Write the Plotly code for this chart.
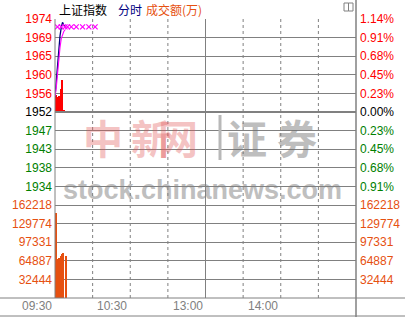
import plotly.graph_objects as go

# ---------------- data ----------------
minutes = [0, 1, 2, 3, 4, 5, 6, 7, 8]
price = [1955.4, 1959.5, 1964.0, 1967.5, 1970.0, 1972.0, 1973.2, 1972.5, 1972.2]
avg_price = [1955.5, 1957.5, 1960.8, 1964.5, 1967.2, 1969.3, 1970.4, 1971.0, 1971.4]
avg_mark_minutes = [2, 5, 8, 10, 13, 17, 22, 27, 32]
avg_mark_values = [1972.1, 1972.1, 1972.1, 1972.1, 1972.1, 1972.1, 1972.1, 1972.1, 1972.1]
strength_minutes = [0, 1, 2, 3, 4, 5, 7]
strength_top = [1955.9, 1955.4, 1955.4, 1955.5, 1957.3, 1959.4, 1952.1]
volume = [147700, 68000, 66000, 70000, 74000, 76000, 79000, 0, 74000]

base_price = 1951.75
price_ticks = [1974.0, 1969.55, 1965.1, 1960.65, 1956.2, 1951.75, 1947.3, 1942.85, 1938.4, 1933.95]
price_labels = ["1974", "1969", "1965", "1960", "1956", "1952", "1947", "1943", "1938", "1934"]
pct_labels = ["1.14%", "0.91%", "0.68%", "0.45%", "0.23%", "0.00%", "0.23%", "0.45%", "0.68%", "0.91%"]
label_colors = ["#ff0000"] * 5 + ["#000000"] + ["#008000"] * 4
vol_ticks = [32444, 64887, 97331, 129774, 162218]
vol_labels = ["32444", "64887", "97331", "129774", "162218"]
time_ticks = [0, 60, 120, 180]
time_labels = ["09:30", "10:30", "13:00", "14:00"]
dotted_minutes = [30, 60, 90, 150, 180, 210]

ORANGE = "#e65010"
GRID = "#808080"
FONT = "Liberation Sans, Arial, sans-serif"
CJK = "Noto Sans CJK SC, sans-serif"

W, H = 405, 317
L, R, T, B = 55, 49, 19, 19
PW, PH = W - L - R, H - T - B


def px(x):
    return (x - L) / PW


def py(y):
    return (H - B - y) / PH


fig = go.Figure()

fig.add_trace(go.Bar(
    x=strength_minutes, y=[t - base_price for t in strength_top], base=base_price,
    marker=dict(color="#ff0000", line=dict(width=0)), width=0.85, offset=0,
    xaxis="x", yaxis="y", hoverinfo="skip"))
fig.add_trace(go.Scatter(x=minutes, y=price, mode="lines",
                         line=dict(color="#000080", width=1.3), xaxis="x", yaxis="y", hoverinfo="skip"))
fig.add_trace(go.Scatter(x=minutes, y=avg_price, mode="lines",
                         line=dict(color="#ff00ff", width=1.1), xaxis="x", yaxis="y", hoverinfo="skip"))
fig.add_trace(go.Scatter(x=avg_mark_minutes, y=avg_mark_values, mode="markers",
                         marker=dict(symbol="x-thin", size=5, line=dict(color="#ff00ff", width=1.2)),
                         xaxis="x", yaxis="y", hoverinfo="skip"))
fig.add_trace(go.Bar(x=minutes, y=volume, marker=dict(color=ORANGE, line=dict(width=0)),
                     width=0.85, offset=0, xaxis="x", yaxis="y2", hoverinfo="skip"))
fig.add_trace(go.Scatter(x=[None], y=[None], xaxis="x", yaxis="y3", showlegend=False, hoverinfo="skip"))
fig.add_trace(go.Scatter(x=[None], y=[None], xaxis="x", yaxis="y4", showlegend=False, hoverinfo="skip"))

price_text = [f"<span style='color:{c}'>{t}</span>" for t, c in zip(price_labels, label_colors)]
pct_text = [f"<span style='color:{c}'>{t}</span>" for t, c in zip(pct_labels, label_colors)]
vol_text = [f"<span style='color:{ORANGE}'>{t}</span>" for t in vol_labels]

common_y = dict(showgrid=True, gridcolor=GRID, gridwidth=1, zeroline=False, ticks="",
                tickfont=dict(family=FONT, size=12), fixedrange=True, showline=False,
                automargin=False)

fig.update_layout(
    width=W, height=H, margin=dict(l=L, r=R, t=T, b=B, pad=0, autoexpand=False),
    paper_bgcolor="white", plot_bgcolor="white", showlegend=False, bargap=0,
    xaxis=dict(range=[0, 240], showticklabels=False, showgrid=False, zeroline=False, ticks="",
               showline=False, automargin=False, fixedrange=True),
    yaxis=dict(domain=[1 / 3, 1], range=[1929.5, 1974.0], tickvals=price_ticks, ticktext=price_text,
               ticklabelstandoff=2, **common_y),
    yaxis2=dict(domain=[0, 1 / 3], range=[0, 162218], tickvals=vol_ticks, ticktext=vol_text,
                ticklabelstandoff=2, **common_y),
    yaxis3=dict(overlaying="y", side="right", range=[1929.5, 1974.0], tickvals=price_ticks,
                ticktext=pct_text, ticklabelstandoff=3, **{**common_y, "showgrid": False}),
    yaxis4=dict(overlaying="y2", side="right", range=[0, 162218], tickvals=vol_ticks,
                ticktext=vol_text, ticklabelstandoff=3, **{**common_y, "showgrid": False}),
)

shapes = []
for m in dotted_minutes:
    shapes.append(dict(type="line", xref="x", yref="paper", x0=m, x1=m, y0=0, y1=1,
                       line=dict(color=GRID, width=1, dash="dot"), layer="below"))
shapes.append(dict(type="line", xref="x", yref="paper", x0=120, x1=120, y0=0, y1=1,
                   line=dict(color=GRID, width=1)))
shapes.append(dict(type="line", xref="paper", yref="paper", x0=0, x1=0, y0=0, y1=1,
                   line=dict(color=GRID, width=1)))
shapes.append(dict(type="line", xref="paper", yref="paper", x0=1, x1=1, y0=py(H), y1=py(0),
                   line=dict(color=GRID, width=1.5)))
shapes.append(dict(type="line", xref="paper", yref="y", x0=0, x1=1, y0=base_price, y1=base_price,
                   line=dict(color=GRID, width=2)))
shapes.append(dict(type="line", xref="paper", yref="y2", x0=0, x1=1, y0=162218, y1=162218,
                   line=dict(color=GRID, width=2)))
shapes.append(dict(type="line", xref="paper", yref="paper", x0=px(0), x1=px(W), y0=0, y1=0,
                   line=dict(color=GRID, width=1)))
shapes.append(dict(type="line", xref="paper", yref="paper", x0=px(0), x1=px(W), y0=py(316), y1=py(316),
                   line=dict(color=GRID, width=1)))
# watermark divider bar
shapes.append(dict(type="line", xref="paper", yref="paper", x0=px(220), x1=px(220), y0=py(160), y1=py(115),
                   line=dict(color="#b8b8b8", width=3)))
shapes.append(dict(type="rect", xref="paper", yref="paper", x0=px(344), x1=px(348.5), y0=py(11), y1=py(3),
                   line=dict(color=GRID, width=1)))
shapes.append(dict(type="rect", xref="paper", yref="paper", x0=px(348.5), x1=px(353), y0=py(11), y1=py(3),
                   line=dict(color=GRID, width=1)))
fig.update_layout(shapes=shapes)

ann = []
ann.append(dict(text="上证指数", x=px(57), y=py(9), xref="paper", yref="paper", xanchor="left",
                yanchor="middle", showarrow=False, font=dict(family=CJK, size=12, color="#000000")))
ann.append(dict(text="分时", x=px(116), y=py(9), xref="paper", yref="paper", xanchor="left",
                yanchor="middle", showarrow=False, font=dict(family=CJK, size=12, color="#000080")))
ann.append(dict(text="成交额(万)", x=px(144), y=py(9), xref="paper", yref="paper", xanchor="left",
                yanchor="middle", showarrow=False, font=dict(family=CJK, size=12, color=ORANGE)))
for t, lab in zip(time_ticks, time_labels):
    ann.append(dict(text=lab, x=t, y=py(306), xref="x", yref="paper", xanchor="right", yanchor="middle",
                    xshift=-1, showarrow=False, font=dict(family=FONT, size=12, color="#808080")))
# watermark, one glyph per annotation
for ch, cx, col, op in [("中", 82, "#e05555", 0.35), ("新", 130, "#e05555", 0.35),
                        ("网", 178, "#e05555", 0.35), ("证", 268, "#707070", 0.45),
                        ("券", 318, "#707070", 0.45)]:
    ann.append(dict(text=f"<b>{ch}</b>", x=px(cx), y=py(137), xref="paper", yref="paper",
                    showarrow=False, font=dict(family=CJK, size=40, color=col), opacity=op,
                    borderpad=0))
ann.append(dict(text="<b>stock.chinanews.com</b>", x=px(202), y=py(190), xref="paper", yref="paper",
                showarrow=False, font=dict(family=FONT, size=27, color="#808080"), opacity=0.5))
fig.update_layout(annotations=ann)

fig.write_html("out.html", config={"responsive": False, "displayModeBar": False})
